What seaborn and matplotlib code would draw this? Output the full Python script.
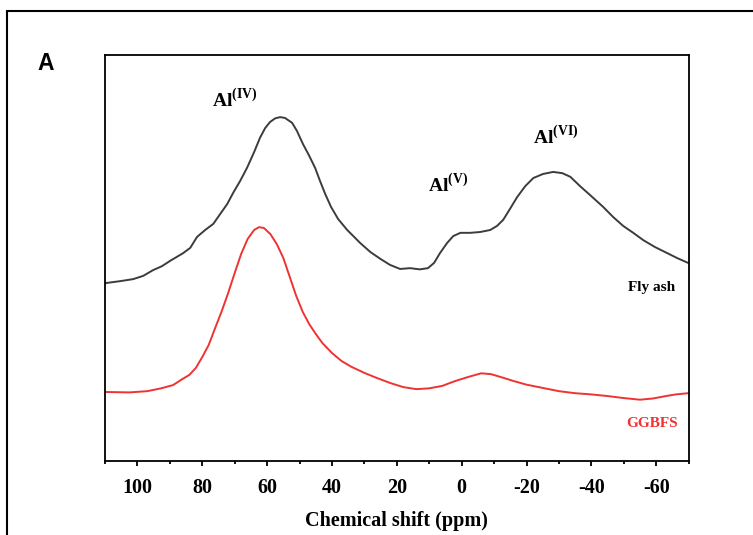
import numpy as np
import pandas as pd
import matplotlib
matplotlib.use("Agg")
import matplotlib.pyplot as plt
from matplotlib.patches import Rectangle
from matplotlib.ticker import MultipleLocator
import seaborn as sns

# ---- data (ppm, intensity a.u.) ----
fly_ash_ppm = [110.0, 105.3, 101.3, 98.2, 95.2, 92.4, 89.9, 85.9, 83.7, 81.6,
               79.1, 76.6, 74.5, 72.3, 70.5, 68.3, 66.2, 64.0, 62.2, 60.6,
               59.1, 57.5, 56.0, 54.5, 52.3, 50.8, 48.9, 47.1, 45.2, 43.7,
               42.1, 40.3, 38.1, 35.3, 31.3, 28.2, 25.1, 22.1, 19.0, 15.9,
               12.9, 10.4, 8.5, 6.7, 4.5, 2.6, 0.4, -2.6, -5.7, -8.8,
               -10.9, -12.8, -14.9, -17.1, -19.6, -22.1, -25.1, -28.2, -31.0, -33.5,
               -36.5, -39.6, -43.6, -46.7, -49.8, -52.9, -56.0, -59.6, -63.4, -66.4,
               -69.8]
fly_ash_int = [43.8, 44.3, 44.8, 45.6, 47.0, 48.0, 49.3, 51.2, 52.5, 55.2,
               56.9, 58.4, 60.8, 63.3, 66.0, 69.0, 72.2, 76.1, 79.6, 82.0,
               83.5, 84.4, 84.7, 84.5, 83.3, 81.3, 78.0, 75.3, 72.2, 69.0,
               65.8, 62.6, 59.6, 56.9, 53.7, 51.5, 49.8, 48.3, 47.3, 47.5,
               47.2, 47.5, 48.8, 51.2, 53.7, 55.4, 56.2, 56.2, 56.4, 56.9,
               57.9, 59.4, 62.1, 65.0, 67.7, 69.7, 70.7, 71.2, 70.9, 70.0,
               67.7, 65.5, 62.6, 60.1, 57.9, 56.2, 54.4, 52.7, 51.2, 50.0,
               48.8]

ggbfs_ppm = [110.0, 102.4, 97.0, 92.7, 89.0, 86.5, 84.0, 82.0, 80.0, 78.0,
             76.0, 74.0, 72.0, 70.0, 68.0, 66.0, 64.0, 62.5, 61.0, 59.0,
             57.0, 55.0, 53.0, 51.0, 49.0, 47.0, 45.0, 43.0, 40.0, 37.0,
             34.0, 30.0, 26.0, 22.0, 18.0, 14.0, 10.0, 6.0, 2.0, -2.0,
             -6.0, -9.0, -12.0, -16.0, -20.0, -25.0, -30.0, -35.0, -40.0, -45.0,
             -50.0, -55.0, -59.0, -63.0, -66.0, -69.8]
ggbfs_int = [17.0, 16.9, 17.2, 17.9, 18.7, 20.0, 21.2, 22.9, 25.6, 28.6,
             32.8, 36.9, 41.4, 46.3, 51.0, 54.7, 56.9, 57.6, 57.4, 55.9,
             53.4, 50.0, 45.3, 40.6, 36.7, 33.7, 31.3, 29.1, 26.6, 24.6,
             23.2, 21.7, 20.4, 19.2, 18.2, 17.7, 17.9, 18.5, 19.7, 20.7,
             21.6, 21.4, 20.7, 19.7, 18.8, 18.0, 17.2, 16.7, 16.4, 16.0,
             15.5, 15.1, 15.4, 16.0, 16.4, 16.7]

x_ticks = [100, 80, 60, 40, 20, 0, -20, -40, -60]
x_tick_labels = ["100", "80", "60", "40", "20", "0", "-20", "-40", "-60"]

# ---- style ----
sns.set_theme(style="ticks")
plt.rcParams["font.family"] = ["Liberation Serif", "DejaVu Serif"]
plt.rcParams["font.weight"] = "bold"
plt.rcParams["text.color"] = "black"
plt.rcParams["axes.labelcolor"] = "black"
plt.rcParams["xtick.color"] = "black"
plt.rcParams["mathtext.fontset"] = "custom"
plt.rcParams["mathtext.rm"] = "Liberation Serif"
plt.rcParams["mathtext.bf"] = "Liberation Serif:bold"

fig = plt.figure(figsize=(7.53, 5.35), dpi=100)
fig.patch.set_facecolor("white")
ax = fig.add_axes([0.1394, 0.1383, 0.9146 - 0.1394, 0.8972 - 0.1383])

df_fa = pd.DataFrame({"ppm": fly_ash_ppm, "intensity": fly_ash_int})
df_gg = pd.DataFrame({"ppm": ggbfs_ppm, "intensity": ggbfs_int})

sns.lineplot(data=df_fa, x="ppm", y="intensity", sort=False, ax=ax,
             color="#3c3c3c", linewidth=1.4)
sns.lineplot(data=df_gg, x="ppm", y="intensity", sort=False, ax=ax,
             color="#f03232", linewidth=1.4)

ax.set_xlim(110, -70)
ax.set_ylim(0, 100)
ax.set_xticks(x_ticks)
ax.set_xticklabels(x_tick_labels, fontsize=14.5, fontweight="bold")
ax.xaxis.set_minor_locator(MultipleLocator(10))
ax.tick_params(axis="x", which="major", direction="out", length=3.5, width=1.3,
               pad=9, color="black", labelcolor="black", top=False)
ax.tick_params(axis="x", which="minor", direction="out", length=2.5, width=1.3,
               top=False)
ax.set_yticks([])
ax.set_ylabel("")
ax.set_xlabel("Chemical shift (ppm)", fontsize=14.5, fontweight="bold",
              labelpad=9, color="black")
for s in ax.spines.values():
    s.set_visible(True)
    s.set_linewidth(1.3)
    s.set_color("black")

# annotations
ax.text(77.0, 87.4, r"$\mathbf{Al}^{\mathbf{(IV)}}$", fontsize=14,
        ha="left", va="baseline")
ax.text(10.3, 66.4, r"$\mathbf{Al}^{\mathbf{(V)}}$", fontsize=14,
        ha="left", va="baseline")
ax.text(-22.1, 78.3, r"$\mathbf{Al}^{\mathbf{(VI)}}$", fontsize=14,
        ha="left", va="baseline")
ax.text(-58.4, 41.9, "Fly ash", fontsize=11, fontweight="bold",
        ha="center", va="baseline", color="black")
ax.text(-58.7, 8.45, "GGBFS", fontsize=11, fontweight="bold",
        ha="center", va="baseline", color="#f03232")

# panel letter
fig.text(45.5 / 753, 1 - 63 / 535, "A", fontsize=16.5, fontweight="bold",
         family=["Liberation Sans", "DejaVu Sans"], ha="center", va="center",
         color="black")

# outer frame
fig.add_artist(Rectangle((7 / 753, -0.1), 1.2, 1 - 11 / 535 + 0.1,
                         transform=fig.transFigure, fill=False,
                         edgecolor="black", linewidth=1.5))

fig.savefig("out.png", dpi=100, facecolor="white")
